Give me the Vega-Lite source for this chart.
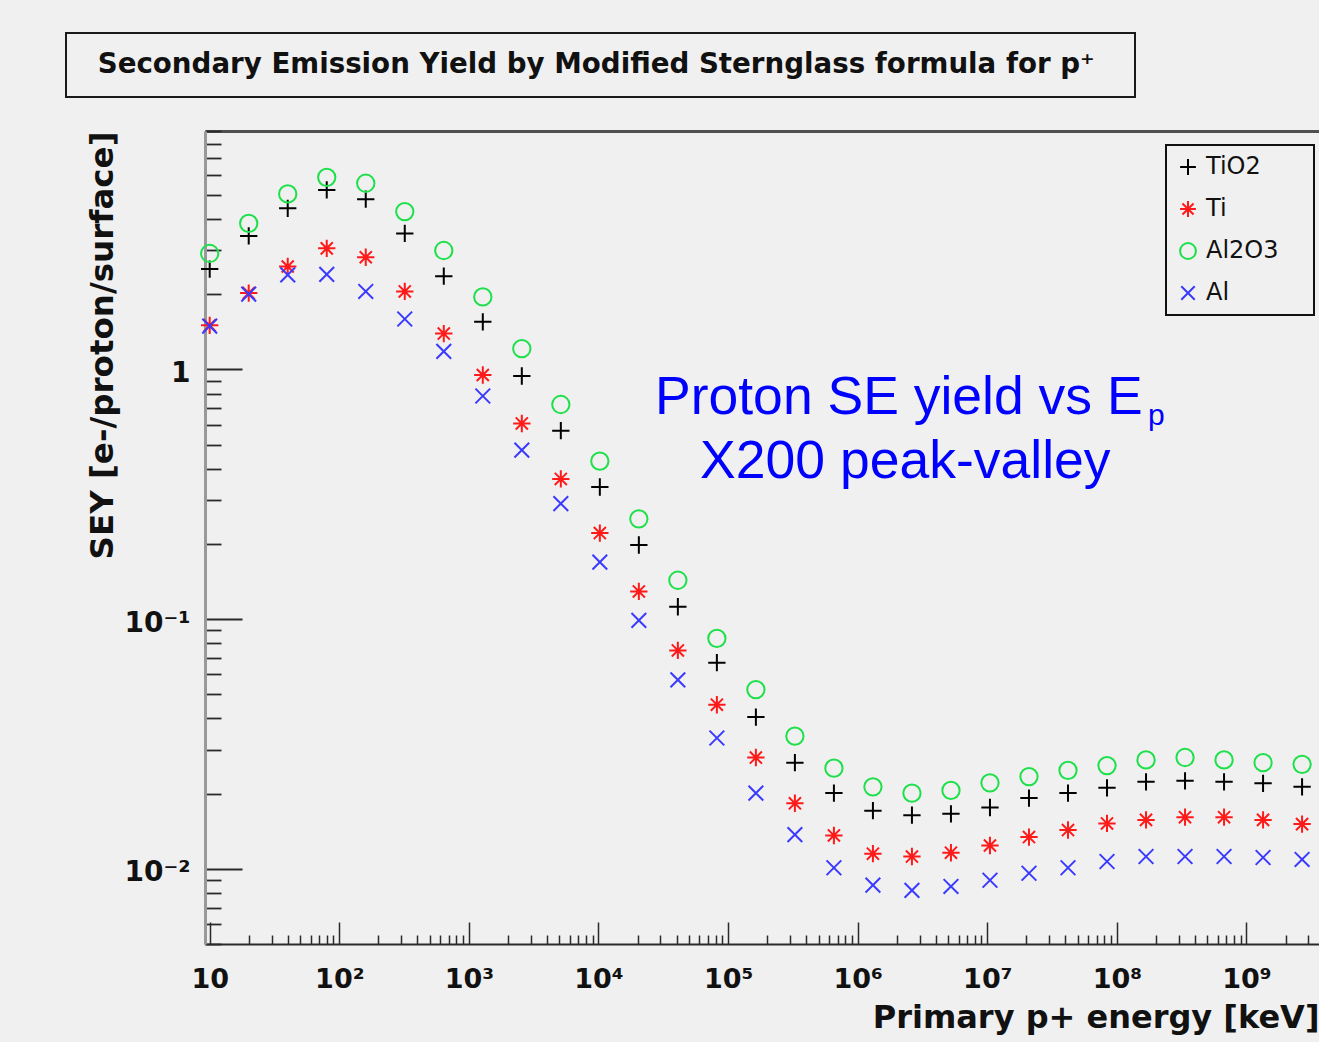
{
  "$schema": "https://vega.github.io/schema/vega-lite/v6.json",
  "autosize": {"type": "none"},
  "width": 1114,
  "height": 813,
  "padding": {"left": 205, "top": 131, "right": 0, "bottom": 98},
  "background": "#f0f0f0",
  "config": {
    "view": {"stroke": null},
    "font": "DejaVu Sans",
    "legend": {"strokeWidth": 2}
  },
  "datasets": {
    "pts": [
      {"E": 10, "s": "TiO2", "v": 2.52}, {"E": 20, "s": "TiO2", "v": 3.42}, {"E": 40, "s": "TiO2", "v": 4.41}, {"E": 80, "s": "TiO2", "v": 5.23}, {"E": 160, "s": "TiO2", "v": 4.8}, {"E": 320, "s": "TiO2", "v": 3.5}, {"E": 640, "s": "TiO2", "v": 2.36}, {"E": 1280, "s": "TiO2", "v": 1.55}, {"E": 2560, "s": "TiO2", "v": 0.94}, {"E": 5120, "s": "TiO2", "v": 0.568}, {"E": 10240, "s": "TiO2", "v": 0.338}, {"E": 20480, "s": "TiO2", "v": 0.198}, {"E": 40960, "s": "TiO2", "v": 0.112}, {"E": 81920, "s": "TiO2", "v": 0.0669}, {"E": 163840, "s": "TiO2", "v": 0.0405}, {"E": 327680, "s": "TiO2", "v": 0.0266}, {"E": 655360, "s": "TiO2", "v": 0.0201}, {"E": 1310720, "s": "TiO2", "v": 0.0171}, {"E": 2621440, "s": "TiO2", "v": 0.0164}, {"E": 5242880, "s": "TiO2", "v": 0.0166}, {"E": 10485760, "s": "TiO2", "v": 0.0176}, {"E": 20971520, "s": "TiO2", "v": 0.0192}, {"E": 41943040, "s": "TiO2", "v": 0.0201}, {"E": 83886080, "s": "TiO2", "v": 0.0211}, {"E": 167772160, "s": "TiO2", "v": 0.0223}, {"E": 335544320, "s": "TiO2", "v": 0.0225}, {"E": 671088640, "s": "TiO2", "v": 0.0223}, {"E": 1342177280, "s": "TiO2", "v": 0.022}, {"E": 2684354560, "s": "TiO2", "v": 0.0213},
      {"E": 10, "s": "Ti", "v": 1.5}, {"E": 20, "s": "Ti", "v": 2.02}, {"E": 40, "s": "Ti", "v": 2.58}, {"E": 80, "s": "Ti", "v": 3.05}, {"E": 160, "s": "Ti", "v": 2.81}, {"E": 320, "s": "Ti", "v": 2.05}, {"E": 640, "s": "Ti", "v": 1.39}, {"E": 1280, "s": "Ti", "v": 0.949}, {"E": 2560, "s": "Ti", "v": 0.607}, {"E": 5120, "s": "Ti", "v": 0.364}, {"E": 10240, "s": "Ti", "v": 0.221}, {"E": 20480, "s": "Ti", "v": 0.129}, {"E": 40960, "s": "Ti", "v": 0.0749}, {"E": 81920, "s": "Ti", "v": 0.0454}, {"E": 163840, "s": "Ti", "v": 0.0279}, {"E": 327680, "s": "Ti", "v": 0.0183}, {"E": 655360, "s": "Ti", "v": 0.0136}, {"E": 1310720, "s": "Ti", "v": 0.0115}, {"E": 2621440, "s": "Ti", "v": 0.0112}, {"E": 5242880, "s": "Ti", "v": 0.0116}, {"E": 10485760, "s": "Ti", "v": 0.0124}, {"E": 20971520, "s": "Ti", "v": 0.0134}, {"E": 41943040, "s": "Ti", "v": 0.0143}, {"E": 83886080, "s": "Ti", "v": 0.0152}, {"E": 167772160, "s": "Ti", "v": 0.0157}, {"E": 335544320, "s": "Ti", "v": 0.0161}, {"E": 671088640, "s": "Ti", "v": 0.0161}, {"E": 1342177280, "s": "Ti", "v": 0.0157}, {"E": 2684354560, "s": "Ti", "v": 0.0151},
      {"E": 10, "s": "Al2O3", "v": 2.91}, {"E": 20, "s": "Al2O3", "v": 3.84}, {"E": 40, "s": "Al2O3", "v": 5.04}, {"E": 80, "s": "Al2O3", "v": 5.87}, {"E": 160, "s": "Al2O3", "v": 5.56}, {"E": 320, "s": "Al2O3", "v": 4.28}, {"E": 640, "s": "Al2O3", "v": 2.99}, {"E": 1280, "s": "Al2O3", "v": 1.95}, {"E": 2560, "s": "Al2O3", "v": 1.21}, {"E": 5120, "s": "Al2O3", "v": 0.723}, {"E": 10240, "s": "Al2O3", "v": 0.429}, {"E": 20480, "s": "Al2O3", "v": 0.252}, {"E": 40960, "s": "Al2O3", "v": 0.143}, {"E": 81920, "s": "Al2O3", "v": 0.0837}, {"E": 163840, "s": "Al2O3", "v": 0.0522}, {"E": 327680, "s": "Al2O3", "v": 0.034}, {"E": 655360, "s": "Al2O3", "v": 0.0253}, {"E": 1310720, "s": "Al2O3", "v": 0.0213}, {"E": 2621440, "s": "Al2O3", "v": 0.0201}, {"E": 5242880, "s": "Al2O3", "v": 0.0206}, {"E": 10485760, "s": "Al2O3", "v": 0.0221}, {"E": 20971520, "s": "Al2O3", "v": 0.0234}, {"E": 41943040, "s": "Al2O3", "v": 0.0248}, {"E": 83886080, "s": "Al2O3", "v": 0.0259}, {"E": 167772160, "s": "Al2O3", "v": 0.0273}, {"E": 335544320, "s": "Al2O3", "v": 0.0279}, {"E": 671088640, "s": "Al2O3", "v": 0.0273}, {"E": 1342177280, "s": "Al2O3", "v": 0.0266}, {"E": 2684354560, "s": "Al2O3", "v": 0.0262},
      {"E": 10, "s": "Al", "v": 1.49}, {"E": 20, "s": "Al", "v": 2.0}, {"E": 40, "s": "Al", "v": 2.39}, {"E": 80, "s": "Al", "v": 2.4}, {"E": 160, "s": "Al", "v": 2.05}, {"E": 320, "s": "Al", "v": 1.59}, {"E": 640, "s": "Al", "v": 1.18}, {"E": 1280, "s": "Al", "v": 0.782}, {"E": 2560, "s": "Al", "v": 0.475}, {"E": 5120, "s": "Al", "v": 0.29}, {"E": 10240, "s": "Al", "v": 0.169}, {"E": 20480, "s": "Al", "v": 0.0988}, {"E": 40960, "s": "Al", "v": 0.0571}, {"E": 81920, "s": "Al", "v": 0.0334}, {"E": 163840, "s": "Al", "v": 0.0201}, {"E": 327680, "s": "Al", "v": 0.0137}, {"E": 655360, "s": "Al", "v": 0.0101}, {"E": 1310720, "s": "Al", "v": 0.0086}, {"E": 2621440, "s": "Al", "v": 0.0082}, {"E": 5242880, "s": "Al", "v": 0.0085}, {"E": 10485760, "s": "Al", "v": 0.009}, {"E": 20971520, "s": "Al", "v": 0.0096}, {"E": 41943040, "s": "Al", "v": 0.0101}, {"E": 83886080, "s": "Al", "v": 0.0107}, {"E": 167772160, "s": "Al", "v": 0.0112}, {"E": 335544320, "s": "Al", "v": 0.0112}, {"E": 671088640, "s": "Al", "v": 0.0112}, {"E": 1342177280, "s": "Al", "v": 0.0111}, {"E": 2684354560, "s": "Al", "v": 0.0109}
    ]
  },
  "layer": [
    {
      "data": {"values": [{"E": 1000, "v": 1, "t": "Secondary Emission Yield by Modified Sternglass formula for p⁺"}]},
      "mark": {"type": "point", "opacity": 0},
      "encoding": {
        "x": {
          "field": "E", "type": "quantitative",
          "scale": {"type": "log", "domain": [9.199, 3626000000], "nice": false},
          "axis": {"orient": "top", "ticks": false, "labels": false, "title": null, "grid": false, "domainColor": "#505050", "domainWidth": 3}
        },
        "y": {
          "field": "v", "type": "quantitative",
          "scale": {"type": "log", "domain": [0.005, 9], "nice": false},
          "axis": {
            "orient": "left", "grid": false, "domain": false, "labels": false, "title": null,
            "values": [0.005,0.006,0.007,0.008,0.009,0.02,0.03,0.04,0.05,0.06,0.07,0.08,0.09,0.2,0.3,0.4,0.5,0.6,0.7,0.8,0.9,2,3,4,5,6,7,8,9],
            "tickColor": "#2a2a2a", "tickWidth": 1.8, "tickSize": -16
          }
        },
        "strokeDash": {
          "field": "t", "type": "nominal",
          "legend": {
            "orient": "none", "legendX": -139, "legendY": -98, "title": null,
            "strokeColor": "#1a1a1a", "fillColor": "#f0f0f0", "padding": 18, "cornerRadius": 0,
            "symbolOpacity": 0, "symbolSize": 1, "symbolStrokeWidth": 0,
            "labelFont": "DejaVu Sans", "labelFontWeight": "bold", "labelFontSize": 27.7, "labelColor": "#111111", "labelLimit": 2000, "labelOffset": -14,
            "labelExpr": "datum.label + '\u2800'"
          }
        }
      }
    },
    {
      "data": {"name": "pts"},
      "mark": {"type": "point", "filled": false, "strokeWidth": 2, "size": 300, "opacity": 1},
      "encoding": {
        "x": {
          "field": "E", "type": "quantitative",
          "scale": {"type": "log", "domain": [9.199, 3626000000], "nice": false},
          "axis": {
            "orient": "bottom", "grid": false,
            "values": [10,100,1000,10000,100000,1000000,10000000,100000000,1000000000],
            "labelExpr": "round(log(datum.value)/LN10) == 1 ? '10' : '10' + ['','','²','³','⁴','⁵','⁶','⁷','⁸','⁹'][round(log(datum.value)/LN10)]",
            "labelFont": "DejaVu Sans", "labelFontWeight": "bold", "labelFontSize": 27, "labelColor": "#111111",
            "labelPadding": 44, "labelOverlap": false, "labelFlush": false, "labelBaseline": "top",
            "domainColor": "#2a2a2a", "domainWidth": 2,
            "tickColor": "#2a2a2a", "tickWidth": 1.5, "tickSize": -22,
            "title": "Primary p+ energy [keV]", "titleFont": "DejaVu Sans", "titleFontWeight": "bold", "titleFontSize": 32, "titleColor": "#111111", "titleAnchor": "end", "titlePadding": 10
          }
        },
        "y": {
          "field": "v", "type": "quantitative",
          "scale": {"type": "log", "domain": [0.005, 9], "nice": false},
          "axis": {
            "orient": "left", "grid": false,
            "values": [0.01, 0.1, 1],
            "labelExpr": "datum.value > 0.5 ? '1' : (datum.value > 0.05 ? '10⁻¹' : '10⁻²')",
            "labelFont": "DejaVu Sans", "labelFontWeight": "bold", "labelFontSize": 28, "labelColor": "#111111",
            "labelPadding": 52, "labelOverlap": false, "labelFlush": false, "labelBaseline": "middle", "labelOffset": 4,
            "domainColor": "#999999", "domainWidth": 3,
            "tickColor": "#2a2a2a", "tickWidth": 1.8, "tickSize": -37,
            "title": "SEY [e-/proton/surface]", "titleFont": "DejaVu Sans", "titleFontWeight": "bold", "titleFontSize": 32.5, "titleColor": "#111111", "titleAnchor": "end", "titlePadding": 4
          }
        },
        "color": {
          "field": "s", "type": "nominal",
          "scale": {"domain": ["TiO2", "Ti", "Al2O3", "Al"], "range": ["#000000", "#ff1a1a", "#1ee04a", "#3a3aff"]},
          "legend": {
            "orient": "none", "legendX": 961, "legendY": 14, "title": null,
            "strokeColor": "#111111", "fillColor": "#f0f0f0", "padding": 10, "rowPadding": 18, "cornerRadius": 0,
            "symbolSize": 250, "symbolStrokeWidth": 2,
            "labelFont": "DejaVu Sans", "labelFontSize": 24, "labelColor": "#111111", "labelOffset": 6,
            "labelExpr": "datum.label + '\u00a0\u2800'"
          }
        },
        "shape": {
          "field": "s", "type": "nominal",
          "scale": {"domain": ["TiO2", "Ti", "Al2O3", "Al"], "range": ["M-1,0L1,0M0,-1L0,1", "M-1,0L1,0M0,-1L0,1M-0.7,-0.7L0.7,0.7M-0.7,0.7L0.7,-0.7", "circle", "M-0.85,-0.85L0.85,0.85M-0.85,0.85L0.85,-0.85"]},
          "legend": {
            "orient": "none", "legendX": 961, "legendY": 14, "title": null,
            "strokeColor": "#111111", "fillColor": "#f0f0f0", "padding": 10, "rowPadding": 18, "cornerRadius": 0,
            "symbolSize": 250, "symbolStrokeWidth": 2,
            "labelFont": "DejaVu Sans", "labelFontSize": 24, "labelColor": "#111111", "labelOffset": 6,
            "labelExpr": "datum.label + '\u00a0\u2800'"
          }
        }
      }
    },
    {
      "data": {"values": [
        {"label": "Proton SE yield vs E", "E": 27290, "v": 0.662},
        {"label": "X200 peak-valley", "E": 60810, "v": 0.366}
      ]},
      "mark": {"type": "text", "align": "left", "baseline": "alphabetic", "font": "Liberation Sans", "fontSize": 53.5, "color": "#0000ff"},
      "encoding": {
        "x": {
          "field": "E", "type": "quantitative",
          "scale": {"type": "log", "domain": [9.199, 3626000000], "nice": false},
          "axis": {
            "orient": "bottom", "grid": false, "domain": false, "labels": false, "title": null,
            "values": [20,30,40,50,60,70,80,90,200,300,400,500,600,700,800,900,2000,3000,4000,5000,6000,7000,8000,9000,20000,30000,40000,50000,60000,70000,80000,90000,200000,300000,400000,500000,600000,700000,800000,900000,2000000,3000000,4000000,5000000,6000000,7000000,8000000,9000000,20000000,30000000,40000000,50000000,60000000,70000000,80000000,90000000,200000000,300000000,400000000,500000000,600000000,700000000,800000000,900000000,2000000000,3000000000],
            "tickColor": "#2a2a2a", "tickWidth": 1.5, "tickSize": -9
          }
        },
        "y": {"field": "v", "type": "quantitative", "scale": {"type": "log", "domain": [0.005, 9], "nice": false}, "axis": null},
        "text": {"field": "label"}
      }
    },
    {
      "data": {"values": [{"label": "p", "E": 174000000, "v": 0.598}]},
      "mark": {"type": "text", "align": "left", "baseline": "alphabetic", "font": "Liberation Sans", "fontSize": 30, "color": "#0000ff"},
      "encoding": {
        "x": {"field": "E", "type": "quantitative", "scale": {"type": "log", "domain": [9.199, 3626000000], "nice": false}, "axis": null},
        "y": {"field": "v", "type": "quantitative", "scale": {"type": "log", "domain": [0.005, 9], "nice": false}, "axis": null},
        "text": {"field": "label"}
      }
    }
  ],
  "resolve": {"axis": {"x": "independent", "y": "independent"}}
}
